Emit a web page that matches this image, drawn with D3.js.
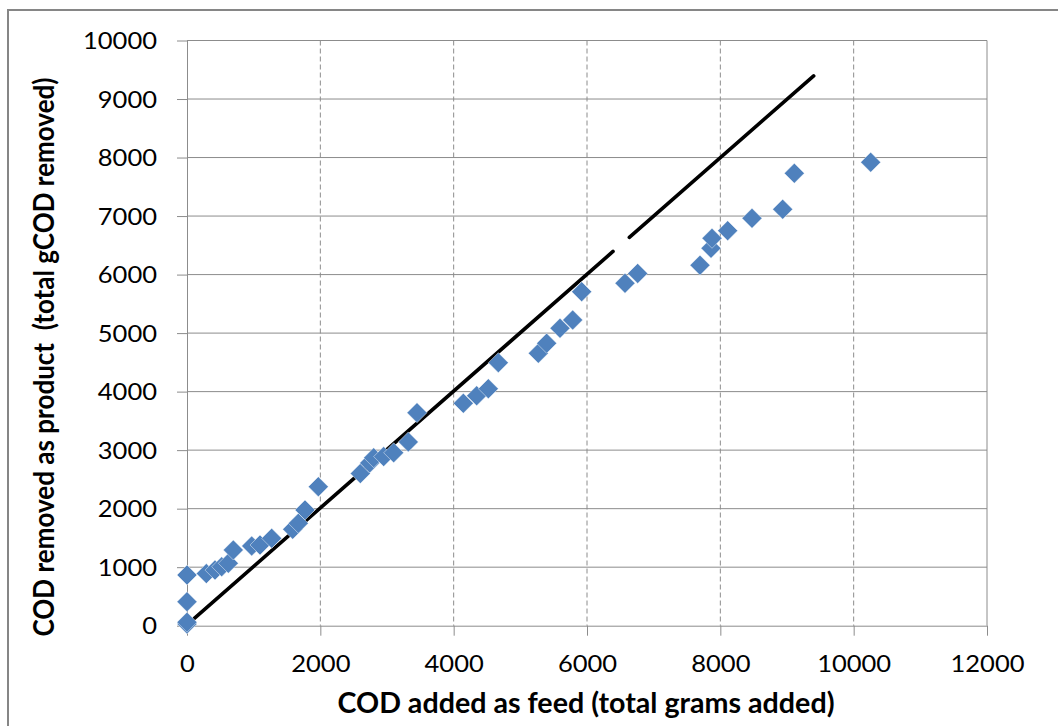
<!DOCTYPE html>
<html>
<head>
<meta charset="utf-8">
<script src="https://cdn.jsdelivr.net/npm/d3@7"></script>
<style>
  body { margin: 0; background: #fff; }
  svg { display: block; }
  .tick text { font-family: Lato, "Open Sans", sans-serif; font-size: 23px; fill: #000; }
  .title { font-family: Lato, "Open Sans", sans-serif; font-size: 29px; font-weight: bold; fill: #000; white-space: pre; }
</style>
</head>
<body>
<script>
// measured points (COD added vs COD removed, grams)
const codAdded = [0, 0, 0, 0, 290, 420, 520, 620, 695, 970, 1095, 1270, 1585, 1670, 1770, 1970,
  2600, 2740, 2800, 2950, 3100, 3320, 3450, 4145, 4345, 4520, 4670, 5270, 5395, 5595, 5785, 5920,
  6570, 6760, 7695, 7860, 7875, 8110, 8475, 8935, 9110, 10255];
const codRemoved = [30, 60, 410, 866, 890, 950, 1008, 1066, 1294, 1362, 1379, 1493, 1647, 1750, 1977, 2376,
  2600, 2780, 2870, 2890, 2955, 3140, 3640, 3800, 3930, 4050, 4495, 4655, 4826, 5083, 5224, 5708,
  5852, 6020, 6160, 6450, 6620, 6751, 6962, 7116, 7731, 7919];

// the 1:1 line (with a gap)
const lineAdded = [110, 6390, null, 6635, 9400];
const lineRemoved = [125, 6395, null, 6635, 9395];

const xTicks = [0, 2000, 4000, 6000, 8000, 10000, 12000];
const yTicks = [0, 1000, 2000, 3000, 4000, 5000, 6000, 7000, 8000, 9000, 10000];
const xTitle = "COD added as feed (total grams added)";
const yTitle = "COD removed as product  (total gCOD removed)";

const width = 1058, height = 726;
const margin = {top: 40.5, right: 71, bottom: 100.3, left: 187};
const w = width - margin.left - margin.right,
      h = height - margin.top - margin.bottom;
const grid = "#8c8c8c";

const svg = d3.select("body").append("svg")
  .attr("width", width)
  .attr("height", height);

// chart border
svg.append("rect")
  .attr("x", 8).attr("y", 10)
  .attr("width", 1080).attr("height", 760)
  .attr("fill", "none")
  .attr("stroke", "#868686")
  .attr("stroke-width", 2);

const g = svg.append("g")
  .attr("transform", "translate(" + margin.left + "," + margin.top + ")");

const x = d3.scaleLinear().domain([0, 12000]).range([0, w]);
const y = d3.scaleLinear().domain([0, 10000]).range([h, 0]);

// horizontal gridlines (solid)
g.selectAll(".hgrid")
  .data(yTicks.slice(1))
  .enter().append("line")
  .attr("x1", 0).attr("x2", w)
  .attr("y1", d => y(d)).attr("y2", d => y(d))
  .attr("stroke", grid).attr("stroke-width", 1);

// vertical gridlines (dashed), last one solid
g.selectAll(".vgrid")
  .data(xTicks.slice(1))
  .enter().append("line")
  .attr("x1", d => x(d)).attr("x2", d => x(d))
  .attr("y1", 0).attr("y2", h)
  .attr("stroke", grid).attr("stroke-width", 1)
  .attr("stroke-dasharray", d => d === 12000 ? null : "5,3");

// stretch digits to the wide look of the original
function fitDigits(sel, perChar) {
  sel.each(function() {
    const t = d3.select(this);
    t.attr("textLength", t.text().length * perChar).attr("lengthAdjust", "spacingAndGlyphs");
  });
}

const xAxis = g.append("g")
  .attr("transform", "translate(0," + h + ")")
  .call(d3.axisBottom(x).tickValues(xTicks).tickSize(10).tickSizeOuter(0).tickFormat(d3.format("d")));
xAxis.selectAll("text").attr("y", 46).attr("dy", null);

const yAxis = g.append("g")
  .call(d3.axisLeft(y).tickValues(yTicks).tickSize(10).tickSizeOuter(0).tickFormat(d3.format("d")));
yAxis.selectAll("text").attr("x", -30).attr("dy", "0.36em");

[xAxis, yAxis].forEach(a => {
  a.select(".domain").attr("stroke", grid);
  a.selectAll(".tick line").attr("stroke", grid);
  fitDigits(a.selectAll("text"), 14.8);
});

// 1:1 line
const pts = lineAdded.map((d, i) => ({x: d, y: lineRemoved[i]}));
const line = d3.line()
  .defined(d => d.x !== null)
  .x(d => x(d.x))
  .y(d => y(d.y));

g.append("path")
  .datum(pts)
  .attr("d", line)
  .attr("fill", "none")
  .attr("stroke", "#000")
  .attr("stroke-width", 3.6)
  .attr("stroke-linecap", "round");

// diamond markers
const diamond = d3.symbol().type(d3.symbolSquare).size(200);
g.selectAll(".dot")
  .data(codAdded.map((d, i) => ({x: d, y: codRemoved[i]})))
  .enter().append("path")
  .attr("class", "dot")
  .attr("d", diamond)
  .attr("transform", d => "translate(" + x(d.x) + "," + y(d.y) + ") rotate(45)")
  .attr("fill", "#4F81BD")
  .attr("stroke", "#ffffff")
  .attr("stroke-width", 0.6)
  .attr("stroke-opacity", 0.7);

// axis titles
svg.append("text")
  .attr("class", "title")
  .attr("x", 586).attr("y", 713)
  .attr("text-anchor", "middle")
  .attr("textLength", 497).attr("lengthAdjust", "spacingAndGlyphs")
  .text(xTitle);

svg.append("text")
  .attr("class", "title")
  .attr("transform", "translate(54,357) rotate(-90)")
  .attr("text-anchor", "middle")
  .attr("textLength", 559).attr("lengthAdjust", "spacingAndGlyphs")
  .text(yTitle);
</script>
</body>
</html>
